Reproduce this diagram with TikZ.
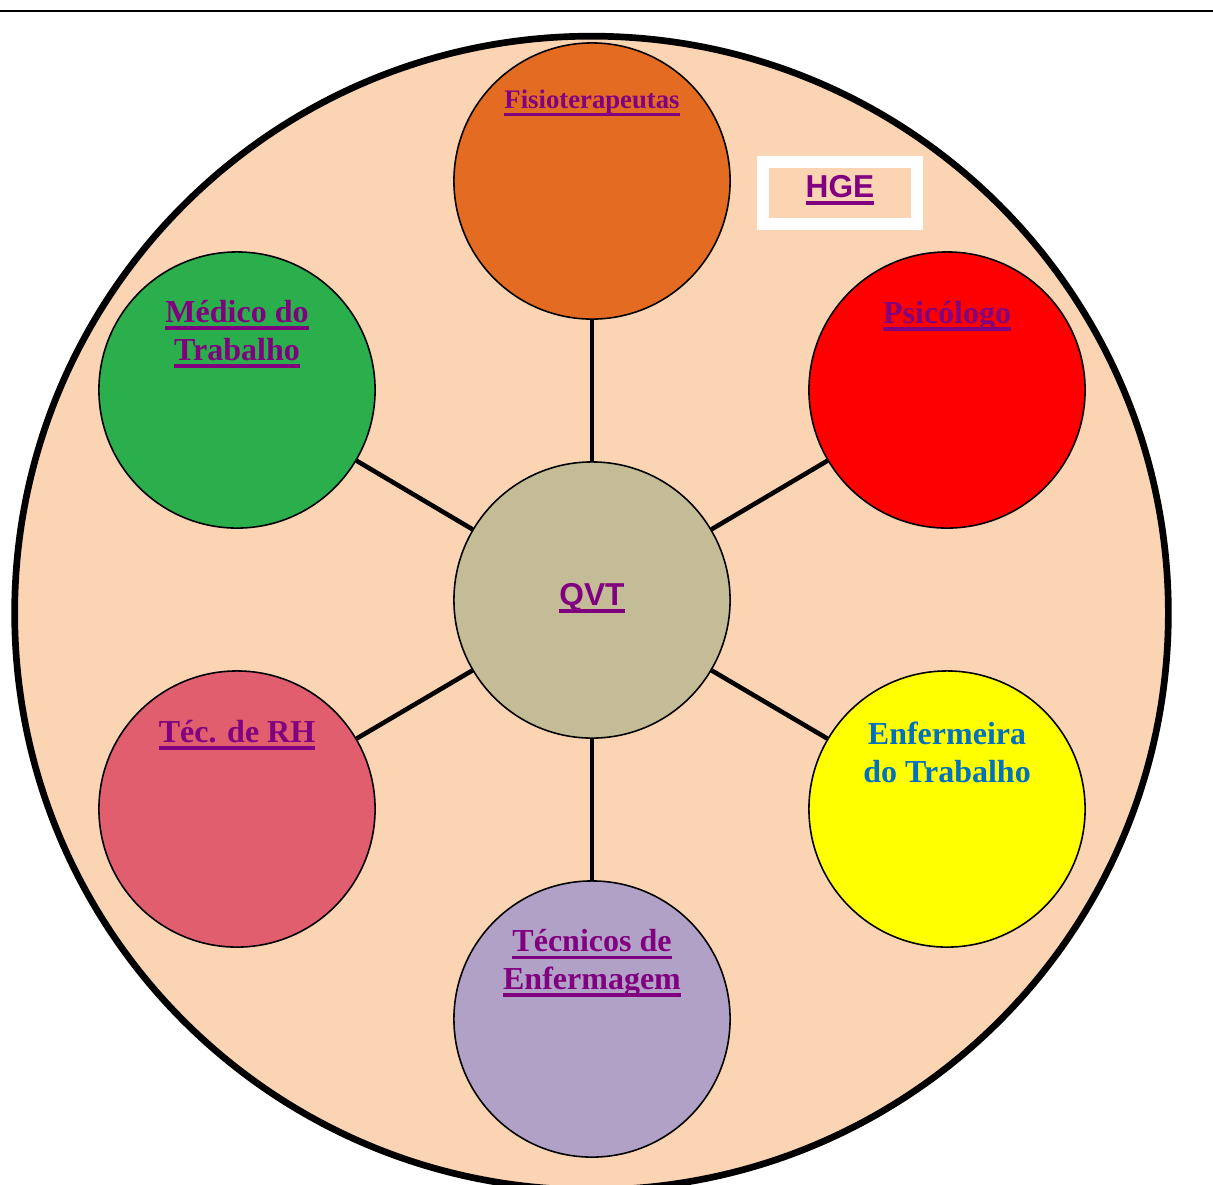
\documentclass[tikz,border=0pt]{standalone}
\usepackage{fontspec}
\setmainfont{Liberation Serif}
\newfontfamily\arialfont{Liberation Sans}
\definecolor{peach}{HTML}{FBD4B4}
\definecolor{fisiocol}{HTML}{E46C22}
\definecolor{medicocol}{HTML}{2BAF4C}
\definecolor{psicocol}{HTML}{FF0000}
\definecolor{rhcol}{HTML}{E05E6E}
\definecolor{enfcol}{HTML}{FFFF00}
\definecolor{teccol}{HTML}{B2A1C7}
\definecolor{qvtcol}{HTML}{C4BB97}
\definecolor{lblpurple}{HTML}{800080}
\definecolor{lblblue}{HTML}{0070C0}
\newcommand{\ulabel}[1]{\leavevmode\setbox0=\hbox{#1}\rlap{\rule[-2.2pt]{\wd0}{1pt}}\box0}

\begin{document}
\begin{tikzpicture}[x=0.01cm,y=-0.01cm,
  member/.style={circle,draw=black,line width=0.45pt,minimum size=2.76cm,inner sep=0pt},
  link/.style={line width=1.3pt},
  caption/.style={font=\bfseries\fontsize{9.1}{10.8}\selectfont,text=lblpurple,align=center,inner sep=0pt}]
\useasboundingbox (0,0) rectangle (1213,1184);
\draw[line width=0.6pt] (0,11) -- (1213,11);
\draw[line width=1.9pt,fill=peach] (591.5,613) circle[radius=5.765cm];
% HGE box
\node[draw=white,line width=0.12cm,fill=peach,minimum width=1.53cm,minimum height=0.62cm,inner sep=0pt] (hge) at (840,193) {};
\node[caption,font=\arialfont\bfseries\fontsize{9}{10.8}\selectfont] (hgetxt) at (840,190) {\ulabel{HGE}};
% circles
\node[member,fill=qvtcol] (qvt) at (592,600) {};
\node[member,fill=fisiocol] (fisio) at (592,181) {};
\node[member,fill=medicocol] (medico) at (237,390) {};
\node[member,fill=psicocol] (psico) at (947,390) {};
\node[member,fill=rhcol] (rh) at (237,809) {};
\node[member,fill=enfcol] (enf) at (947,809) {};
\node[member,fill=teccol] (tec) at (592,1019) {};
% links
\foreach \m in {fisio,medico,psico,rh,enf,tec}
  \draw[link] (qvt) -- (\m);
% labels
\node[caption,font=\arialfont\bfseries\fontsize{9}{10.8}\selectfont] (qvttxt) at (592,598) {\ulabel{QVT}};
\node[caption,font=\bfseries\fontsize{7.6}{9}\selectfont] (fisiotxt) at (592,103) {\ulabel{Fisioterapeutas}};
\node[caption] (medicotxt) at (237,334) {\ulabel{Médico do}\\\ulabel{Trabalho}};
\node[caption] (psicotxt) at (947,316) {\ulabel{Psicólogo}};
\node[caption] (rhtxt) at (237,735) {\ulabel{Téc. de RH}};
\node[caption,text=lblblue] (enftxt) at (947,752) {Enfermeira\\do Trabalho};
\node[caption] (tectxt) at (592,963) {\ulabel{Técnicos de}\\\ulabel{Enfermagem}};
\end{tikzpicture}
\end{document}
